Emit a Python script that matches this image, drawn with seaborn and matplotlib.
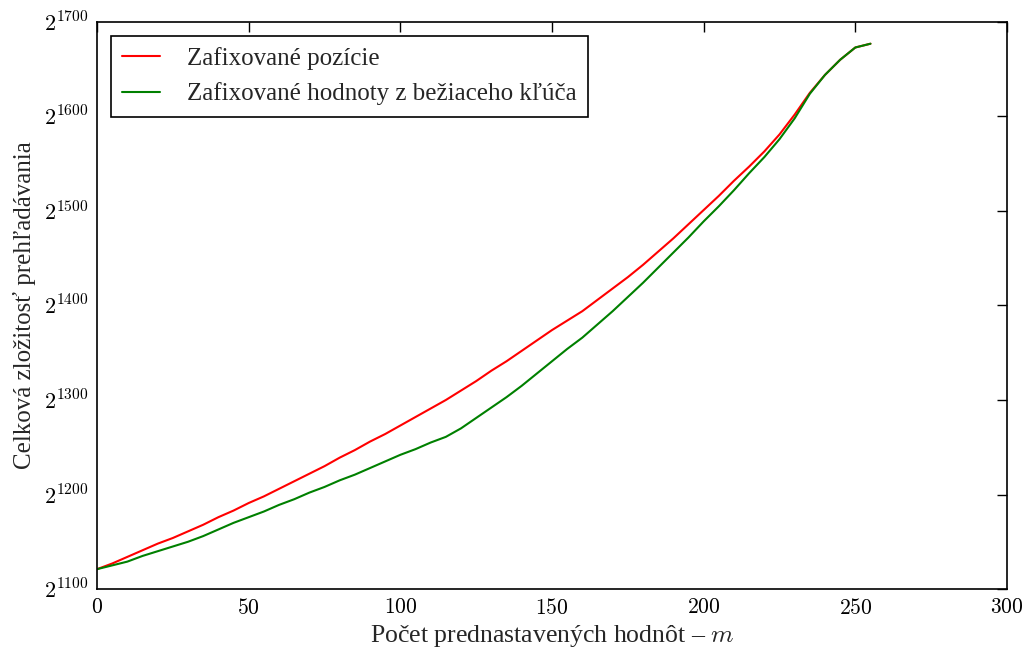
import matplotlib
matplotlib.use("Agg")
import matplotlib.pyplot as plt
from matplotlib.ticker import FuncFormatter, MultipleLocator
import pandas as pd
import seaborn as sns

# Number of preset values m
m_values = list(range(0, 256, 5))

# log2 of the total search complexity
fixed_positions = [
    1121, 1127, 1134, 1141, 1148, 1154, 1161, 1168, 1176, 1183,
    1191, 1198, 1206, 1214, 1222, 1230, 1239, 1247, 1256, 1264,
    1273, 1282, 1291, 1300, 1310, 1320, 1331, 1341, 1352, 1363,
    1374, 1384, 1394, 1406, 1418, 1430, 1443, 1457, 1471, 1486,
    1501, 1516, 1532, 1547, 1563, 1581, 1602, 1625, 1644, 1660,
    1673, 1677,
]
fixed_running_key = [
    1121, 1125, 1129, 1135, 1140, 1145, 1150, 1156, 1163, 1170,
    1176, 1182, 1189, 1195, 1202, 1208, 1215, 1221, 1228, 1235,
    1242, 1248, 1255, 1261, 1270, 1281, 1292, 1303, 1315, 1328,
    1341, 1354, 1366, 1380, 1394, 1409, 1424, 1440, 1456, 1472,
    1489, 1505, 1522, 1540, 1557, 1576, 1598, 1624, 1644, 1660,
    1673, 1677,
]

series_names = ["Zafixované pozície", "Zafixované hodnoty z bežiaceho kľúča"]
y_ticks = [1100, 1200, 1300, 1400, 1500, 1600, 1700]

df = pd.DataFrame({
    "m": m_values * 2,
    "log2c": fixed_positions + fixed_running_key,
    "series": [series_names[0]] * len(m_values) + [series_names[1]] * len(m_values),
})

sns.set_style("white")
plt.rcParams["font.family"] = ["Liberation Serif", "DejaVu Serif"]
plt.rcParams["mathtext.fontset"] = "cm"

fig = plt.figure(figsize=(10.29, 6.52), dpi=100)
ax = fig.add_axes([0.0943, 0.0966, 0.8843, 0.8697])

sns.lineplot(
    data=df, x="m", y="log2c", hue="series",
    palette={series_names[0]: "#ff0000", series_names[1]: "#008000"},
    linewidth=1.5, ax=ax, sort=False,
)

ax.set_xlim(0, 300)
ax.set_ylim(1100, 1700)
ax.xaxis.set_major_locator(MultipleLocator(50))
ax.set_yticks(y_ticks)
ax.xaxis.set_major_formatter(FuncFormatter(lambda v, p: r"$%d$" % v))
ax.yaxis.set_major_formatter(FuncFormatter(lambda v, p: r"$2^{%d}$" % v))
ax.tick_params(axis="x", labelsize=15.5, pad=7)
ax.tick_params(axis="y", labelsize=16, pad=6)
ax.tick_params(direction="in", length=7, width=1, top=True, right=True,
               colors="black")

for s in ax.spines.values():
    s.set_visible(True)
    s.set_color("black")
    s.set_linewidth(1.2)

ax.set_xlabel("Počet prednastavených hodnôt – $m$", fontsize=18.5, labelpad=3)
ax.set_ylabel("Celková zložitosť prehľadávania", fontsize=18, labelpad=6)

leg = ax.legend(loc="upper left", fontsize=18, frameon=True, fancybox=False,
                handlelength=1.5, handletextpad=1.1, borderpad=0.45,
                labelspacing=0.5, borderaxespad=0.55)
leg.get_frame().set_edgecolor("black")
leg.get_frame().set_linewidth(1.2)
leg.get_frame().set_alpha(1)

fig.savefig("out.png", dpi=100)
